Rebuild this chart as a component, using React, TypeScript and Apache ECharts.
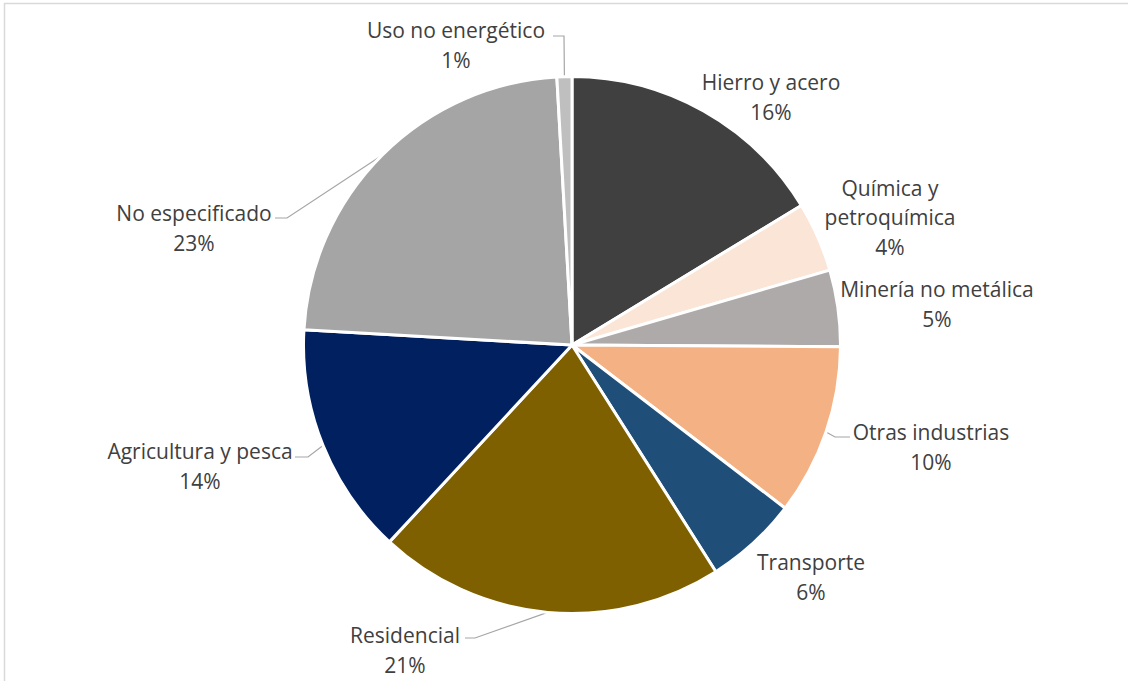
import React, { useEffect, useRef } from "react";
import * as echarts from "echarts";

// Data (share of final energy consumption, %), clockwise from 12 o'clock
const categories = [
  "Hierro y acero",
  "Química y petroquímica",
  "Minería no metálica",
  "Otras industrias",
  "Transporte",
  "Residencial",
  "Agricultura y pesca",
  "No especificado",
  "Uso no energético",
];
const values = [16.3, 4.2, 4.6, 10.3, 5.6, 20.9, 14.0, 23.2, 0.9];
const labelText = [
  "Hierro y acero",
  "Química y\npetroquímica",
  "Minería no metálica",
  "Otras industrias",
  "Transporte",
  "Residencial",
  "Agricultura y pesca",
  "No especificado",
  "Uso no energético",
];
const colors = [
  "#404040",
  "#FBE5D6",
  "#AEAAAA",
  "#F4B183",
  "#1F4E79",
  "#7F6000",
  "#002060",
  "#A5A5A5",
  "#BFBFBF",
];

// Layout (label centres and leader-line elbows), kept apart from data
const labelPos: number[][] = [
  [771, 97],
  [890, 217],
  [937, 304],
  [931, 447],
  [811, 577],
  [405, 650],
  [200, 466],
  [194, 228],
  [456, 45],
];
const leaders: (number[][] | null)[] = [
  null,
  null,
  null,
  [[835, 437], [850, 437]],
  null,
  [[475, 638], [465, 638]],
  [[308, 457], [295, 457]],
  [[287, 218], [275, 218]],
  [[564, 36], [553, 36]],
];

export default function App() {
  const ref = useRef<HTMLDivElement>(null);
  useEffect(() => {
    if (!ref.current) return;
    const chart = echarts.init(ref.current, null, { renderer: "svg" });
    const data = categories.map((name, i) => ({
      name,
      value: values[i],
      itemStyle: { color: colors[i] },
      labelLine: { show: leaders[i] != null },
    }));
    chart.setOption({
      animation: false,
      backgroundColor: "#ffffff",
      graphic: [
        {
          type: "rect",
          shape: { x: 4.5, y: 3.5, width: 1200, height: 800 },
          style: { fill: "none", stroke: "#d9d9d9", lineWidth: 1.5 },
          silent: true,
        },
      ],
      series: [
        {
          type: "pie",
          center: [572, 345],
          radius: 268.5,
          startAngle: 90,
          clockwise: true,
          avoidLabelOverlap: false,
          itemStyle: { borderColor: "#ffffff", borderWidth: 3 },
          label: {
            show: true,
            position: "outside",
            fontFamily: "Open Sans",
            fontSize: 21,
            color: "#404040",
            lineHeight: 29.5,
            align: "center",
            formatter: (p: any) =>
              `${labelText[p.dataIndex]}\n${Math.round(p.percent)}%`,
          },
          labelLine: {
            lineStyle: { color: "#A6A6A6", width: 1.2 },
            length: 10,
            length2: 10,
          },
          labelLayout: (p: any) => {
            const i = p.dataIndex;
            const out: any = {
              x: labelPos[i][0],
              y: labelPos[i][1],
              align: "center",
              verticalAlign: "middle",
            };
            const lead = leaders[i];
            if (lead && p.labelLinePoints) {
              out.labelLinePoints = [p.labelLinePoints[0], lead[0], lead[1]];
            }
            return out;
          },
          data,
        },
      ],
    });
    return () => chart.dispose();
  }, []);
  return (
    <div
      ref={ref}
      style={{ position: "fixed", left: 0, top: 0, width: 1128, height: 681 }}
    />
  );
}
